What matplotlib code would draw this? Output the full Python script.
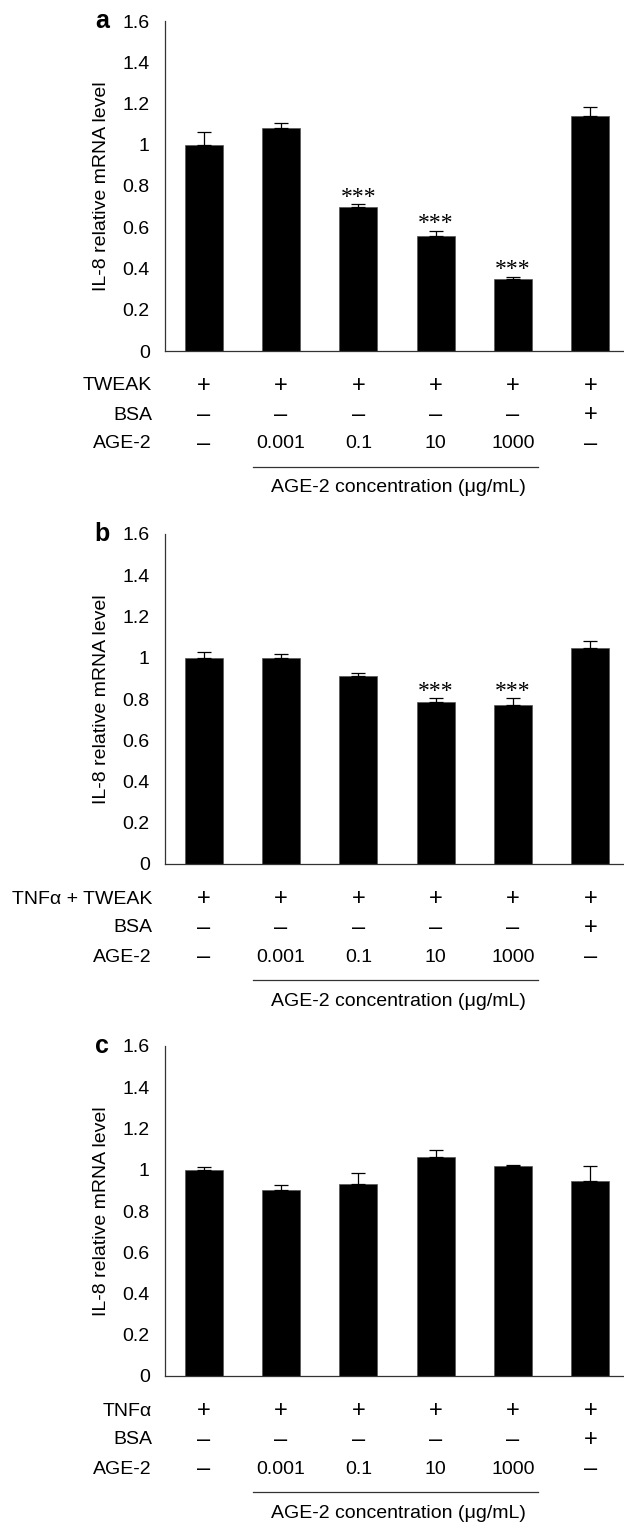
import numpy as np
import matplotlib
matplotlib.use("Agg")
import matplotlib.pyplot as plt

plt.rcParams['font.family'] = ['Liberation Sans', 'DejaVu Sans']

# data
groups = ["1", "2", "3", "4", "5", "6"]
a_means = [1.00, 1.08, 0.70, 0.56, 0.35, 1.14]
a_err = [0.06, 0.025, 0.013, 0.023, 0.010, 0.045]
b_means = [1.00, 0.997, 0.91, 0.784, 0.77, 1.045]
b_err = [0.030, 0.022, 0.018, 0.021, 0.035, 0.038]
c_means = [1.00, 0.904, 0.933, 1.06, 1.017, 0.944]
c_err = [0.013, 0.023, 0.053, 0.034, 0.004, 0.073]
a_sig = [2, 3, 4]
b_sig = [3, 4]
c_sig = []

first_rows = ["TWEAK", "TNF\u03b1 + TWEAK", "TNF\u03b1"]
first_vals = ["+", "+", "+", "+", "+", "+"]
bsa_vals = ["\u2013", "\u2013", "\u2013", "\u2013", "\u2013", "+"]
age_vals = ["\u2013", "0.001", "0.1", "10", "1000", "\u2013"]
yticks = [0, 0.2, 0.4, 0.6, 0.8, 1.0, 1.2, 1.4, 1.6]
ytick_labels = ["0", "0.2", "0.4", "0.6", "0.8", "1", "1.2", "1.4", "1.6"]
panel_letters = ["a", "b", "c"]

W, H = 624, 1522
fig = plt.figure(figsize=(W / 100, H / 100), dpi=100)

ax_left = 165
ax_w = 464
ax_h = 330
bottoms = [351, 864, 1376]
fs = 14
sign_fs = 17
line_col = "#333333"

panels = [(a_means, a_err, a_sig), (b_means, b_err, b_sig), (c_means, c_err, c_sig)]
x = np.arange(len(groups))

for i, (means, errs, sig) in enumerate(panels):
    b = bottoms[i]
    ax = fig.add_axes([ax_left / W, 1 - b / H, ax_w / W, ax_h / H])
    ax.bar(x, means, width=0.49, color="black", edgecolor="#555555", linewidth=0.5)
    ax.errorbar(x, means, yerr=[np.zeros(len(errs)), errs], fmt="none",
                ecolor="black", elinewidth=0.9, capsize=5.3, capthick=0.9)
    ax.set_xlim(-0.5, 5.5)
    ax.set_ylim(0, 1.6)
    ax.set_yticks(yticks)
    ax.set_yticklabels(ytick_labels, fontsize=fs)
    ax.set_xticks([])
    ax.tick_params(axis="y", length=0, pad=11)
    for s in ["top", "right"]:
        ax.spines[s].set_visible(False)
    for s in ["left", "bottom"]:
        ax.spines[s].set_color(line_col)
        ax.spines[s].set_linewidth(0.9)
    ax.set_ylabel("IL-8 relative mRNA level", fontsize=fs)
    ax.yaxis.set_label_coords((101 - ax_left) / ax_w, 0.5)
    ax.yaxis.label.set_va("center")

    for j in sig:
        ax.annotate("***", (x[j], means[j] + errs[j]), xytext=(0, 1),
                    textcoords="offset points", ha="center", va="baseline",
                    fontsize=17, family="Liberation Serif")

    ax.text((102 - ax_left) / ax_w, 1.0, panel_letters[i], transform=ax.transAxes,
            ha="center", va="center", fontsize=18, fontweight="bold")

    tr = ax.get_xaxis_transform()
    row_y = [-35 / ax_h, -64 / ax_h, -93 / ax_h]
    row_names = [first_rows[i], "BSA", "AGE-2"]
    row_vals = [first_vals, bsa_vals, age_vals]
    for ry, name, vals in zip(row_y, row_names, row_vals):
        ax.text((152 - ax_left) / ax_w, ry, name, transform=ax.transAxes,
                ha="right", va="center", fontsize=fs)
        for j, v in enumerate(vals):
            size = sign_fs if v in ("+", "\u2013") else fs
            ax.text(x[j], ry, v, transform=tr, ha="center", va="center", fontsize=size)
    ax.plot([0.64, 4.32], [-116 / ax_h, -116 / ax_h], transform=tr, color=line_col,
            lw=0.9, clip_on=False)
    ax.text(2.52, -137 / ax_h, "AGE-2 concentration (\u03bcg/mL)", transform=tr,
            ha="center", va="center", fontsize=fs)

fig.savefig("out.png", dpi=100)
